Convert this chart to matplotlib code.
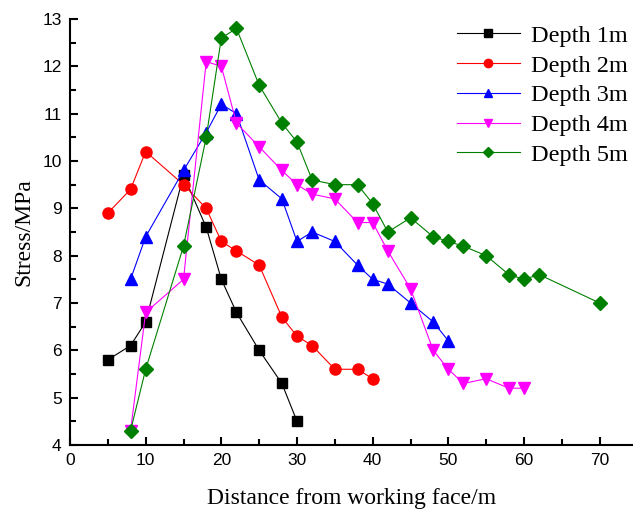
import numpy as np
import matplotlib
matplotlib.use("Agg")
from matplotlib import pyplot as plt
from matplotlib.ticker import MultipleLocator

# distance from working face (m) and stress (MPa) for each depth
x1 = [5, 8, 10, 15, 18, 20, 22, 25, 28, 30]
y1 = [5.8, 6.1, 6.6, 9.7, 8.6, 7.5, 6.8, 6.0, 5.3, 4.5]
x2 = [5, 8, 10, 15, 18, 20, 22, 25, 28, 30, 32, 35, 38, 40]
y2 = [8.9, 9.4, 10.2, 9.5, 9.0, 8.3, 8.1, 7.8, 6.7, 6.3, 6.1, 5.6, 5.6, 5.4]
x3 = [8, 10, 15, 18, 20, 22, 25, 28, 30, 32, 35, 38, 40, 42, 45, 48, 50]
y3 = [7.5, 8.4, 9.8, 10.6, 11.2, 11.0, 9.6, 9.2, 8.3, 8.5, 8.3, 7.8, 7.5, 7.4, 7.0, 6.6, 6.2]
x4 = [8, 10, 15, 18, 20, 22, 25, 28, 30, 32, 35, 38, 40, 42, 45, 48, 50, 52, 55, 58, 60]
y4 = [4.3, 6.8, 7.5, 12.1, 12.0, 10.8, 10.3, 9.8, 9.5, 9.3, 9.2, 8.7, 8.7, 8.1, 7.3, 6.0, 5.6, 5.3, 5.4, 5.2, 5.2]
x5 = [8, 10, 15, 18, 20, 22, 25, 28, 30, 32, 35, 38, 40, 42, 45, 48, 50, 52, 55, 58, 60, 62, 70]
y5 = [4.3, 5.6, 8.2, 10.5, 12.6, 12.8, 11.6, 10.8, 10.4, 9.6, 9.5, 9.5, 9.1, 8.5, 8.8, 8.4, 8.3, 8.2, 8.0, 7.6, 7.5, 7.6, 7.0]
labels = ["Depth 1m", "Depth 2m", "Depth 3m", "Depth 4m", "Depth 5m"]

fig = plt.figure(figsize=(6.33, 5.12), dpi=100)
ax = fig.add_axes([70/633, 67/512, 563/633, 426/512])

series = [(x1, y1, "k", "s", 7), (x2, y2, "red", "o", 8), (x3, y3, "blue", "^", 8.5),
          (x4, y4, "magenta", "v", 8.5), (x5, y5, "green", "D", 7)]
for (xs, ys, c, m, ms), lab in zip(series, labels):
    ax.plot(xs, ys, color=c, lw=0.8, marker=m, ms=ms, mec=c, mfc=c, label=lab)

ax.set_xlim(0, 74.4)
ax.set_ylim(4, 13)
ax.xaxis.set_major_locator(MultipleLocator(10))
ax.xaxis.set_minor_locator(MultipleLocator(5))
ax.yaxis.set_major_locator(MultipleLocator(1))
ax.yaxis.set_minor_locator(MultipleLocator(0.5))
ax.spines["top"].set_visible(False)
ax.spines["right"].set_visible(False)
ax.spines["left"].set_linewidth(1.5)
ax.spines["bottom"].set_linewidth(1.5)
ax.tick_params(which="both", direction="in", width=1.5)
ax.tick_params(which="major", length=6, labelsize=12.5, pad=6)
ax.tick_params(which="minor", length=4)
for t in ax.get_xticklabels() + ax.get_yticklabels():
    t.set_fontfamily("Liberation Sans")

ax.set_xlabel("Distance from working face/m", fontfamily="Liberation Serif", fontsize=17, labelpad=14)
ax.set_ylabel("Stress/MPa", fontfamily="Liberation Serif", fontsize=17, labelpad=6)

leg = ax.legend(loc="upper right", bbox_to_anchor=(1.012, 1.015), frameon=False, borderaxespad=0.1,
                prop={"family": "Liberation Serif", "size": 17.5}, handlelength=2.6,
                labelspacing=0.32, handletextpad=0.45, markerscale=0.75)

fig.savefig("out.png", dpi=100)
